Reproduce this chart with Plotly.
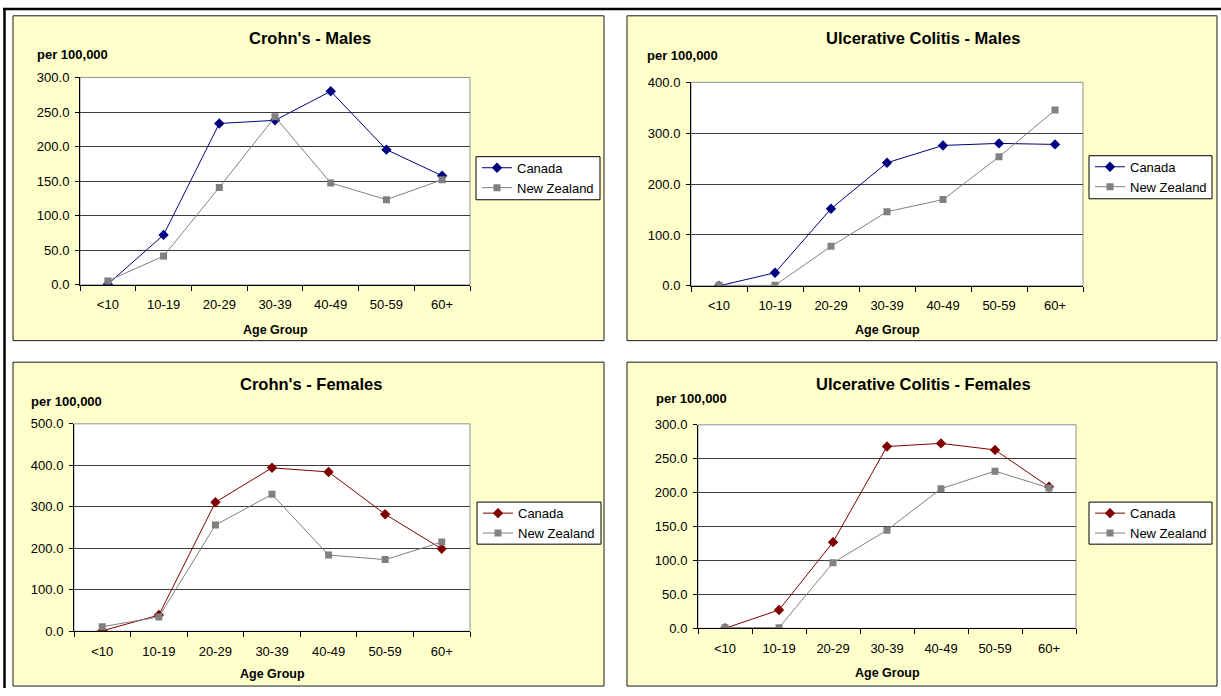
import plotly.graph_objects as go

W, H = 1221, 696

age_groups = ["<10", "10-19", "20-29", "30-39", "40-49", "50-59", "60+"]

cd_m_canada = [1.0, 72.3, 233.4, 238.0, 280.0, 195.6, 157.8]
cd_m_nz = [5.7, 41.6, 141.0, 243.0, 147.4, 123.3, 152.0]
uc_m_canada = [0.0, 25.7, 151.5, 242.0, 276.0, 280.0, 278.0]
uc_m_nz = [1.0, 1.0, 77.7, 145.7, 169.5, 253.6, 345.4]
cd_f_canada = [1.0, 39.0, 311.0, 394.0, 384.0, 282.0, 198.6]
cd_f_nz = [11.0, 34.5, 256.0, 330.0, 183.7, 172.7, 215.0]
uc_f_canada = [0.0, 27.0, 127.0, 268.0, 272.6, 263.0, 208.6]
uc_f_nz = [1.0, 1.0, 96.6, 144.7, 205.8, 231.7, 207.0]

titles = ["Crohn's - Males", "Ulcerative Colitis - Males",
          "Crohn's - Females", "Ulcerative Colitis - Females"]
series = [(cd_m_canada, cd_m_nz), (uc_m_canada, uc_m_nz),
          (cd_f_canada, cd_f_nz), (uc_f_canada, uc_f_nz)]
y_max = [300, 400, 500, 300]
y_step = [50, 100, 100, 50]
canada_colors = ["#000080", "#000080", "#800000", "#800000"]
NZ_COLOR = "#808080"

FONT = "Liberation Sans, Arial, sans-serif"

# layout in pixels
panels = [  # yellow panel boxes (x0, y0, x1, y1)
    (13, 9, 604, 341), (627, 9, 1217, 341),
    (13, 363, 604, 694), (627, 363, 1217, 694)]
plots = [  # plot areas (x0, y0, x1, y1)
    (80, 72, 470, 284), (691, 77, 1083, 285),
    (74, 426, 470, 638), (698, 427, 1076, 635)]
title_pos = [(310, 32), (923, 32), (311, 385), (923, 385)]
unit_pos = [(35, 49), (645, 50), (29, 403), (654, 400)]
xlab_y = [330, 330, 682, 681]
legend_box = [(476, 153, 600, 197), (1089, 152, 1212, 196),
              (477, 506, 601, 549), (1089, 506, 1212, 549)]


def px(x):
    return x / W


def py(y):
    return 1 - y / H


fig = go.Figure()
shapes = []
annotations = []

# outer frame lines
shapes.append(dict(type="line", xref="paper", yref="paper",
                   x0=px(3), x1=px(W), y0=py(2), y1=py(2),
                   line=dict(color="black", width=2.5), layer="below"))
shapes.append(dict(type="line", xref="paper", yref="paper",
                   x0=px(4.5), x1=px(4.5), y0=py(1), y1=py(H),
                   line=dict(color="black", width=2.5), layer="below"))

for i in range(4):
    n = "" if i == 0 else str(i + 1)
    xa, ya = "x" + n, "y" + n
    leg = "legend" + n
    can, nz = series[i]
    fig.add_trace(go.Scatter(
        x=age_groups, y=can, name="Canada", mode="lines+markers",
        line=dict(color=canada_colors[i], width=1),
        marker=dict(symbol="diamond", size=8, color=canada_colors[i]),
        xaxis=xa, yaxis=ya, legend=leg))
    fig.add_trace(go.Scatter(
        x=age_groups, y=nz, name="New Zealand", mode="lines+markers",
        line=dict(color=NZ_COLOR, width=1),
        marker=dict(symbol="square", size=7, color=NZ_COLOR),
        xaxis=xa, yaxis=ya, legend=leg))

    x0, y0, x1, y1 = plots[i]
    fig.layout["xaxis" + n] = dict(
        domain=[px(x0), px(x1)], anchor=ya, type="category",
        categoryorder="array", categoryarray=age_groups,
        range=[-0.5, 6.5], tickson="boundaries", ticks="outside",
        ticklen=5, tickcolor="black", showline=True, linecolor="black",
        linewidth=1, showgrid=False, zeroline=False,
        tickfont=dict(family=FONT, size=13, color="black"),
        ticklabelstandoff=8, fixedrange=True)
    fig.layout["yaxis" + n] = dict(
        domain=[py(y1), py(y0)], anchor=xa, range=[0, y_max[i]],
        dtick=y_step[i], tick0=0, tickformat=".1f", ticks="outside",
        ticklen=4, tickcolor="black", showline=True, linecolor="black",
        linewidth=1, showgrid=True, gridcolor="#3c3c3c", gridwidth=1,
        zeroline=False, tickfont=dict(family=FONT, size=13, color="black"),
        ticklabelstandoff=3, fixedrange=True)

    lx0, ly0, lx1, ly1 = legend_box[i]
    fig.layout[leg] = dict(
        x=px(lx0 + 1), y=py(ly0 - 4), xanchor="left", yanchor="top",
        bgcolor="rgba(0,0,0,0)", borderwidth=0,
        font=dict(family=FONT, size=13, color="black"),
        itemwidth=30, tracegroupgap=0)

    # yellow panel
    bx0, by0, bx1, by1 = panels[i]
    shapes.append(dict(type="rect", xref="paper", yref="paper",
                       x0=px(bx0), x1=px(bx1), y0=py(by1), y1=py(by0),
                       fillcolor="#FFFFCC", line=dict(color="#1a1a1a", width=1),
                       layer="below"))
    # legend frame
    shapes.append(dict(type="rect", xref="paper", yref="paper",
                       x0=px(lx0), x1=px(lx1), y0=py(ly1), y1=py(ly0),
                       fillcolor="white", line=dict(color="black", width=1),
                       layer="below"))
    # white plot area with gray top/right border
    shapes.append(dict(type="rect", xref=xa + " domain", yref=ya + " domain",
                       x0=0, x1=1, y0=0, y1=1, fillcolor="white",
                       line=dict(color="#909090", width=1), layer="below"))

    tx, ty = title_pos[i]
    annotations.append(dict(text="<b>" + titles[i] + "</b>", xref="paper",
                            yref="paper", x=px(tx), y=py(ty), xanchor="center",
                            yanchor="middle", showarrow=False,
                            font=dict(family=FONT, size=16.5, color="black")))
    ux, uy = unit_pos[i]
    annotations.append(dict(text="<b>per 100,000</b>", xref="paper",
                            yref="paper", x=px(ux), y=py(uy), xanchor="left",
                            yanchor="middle", showarrow=False,
                            font=dict(family=FONT, size=13, color="black")))
    annotations.append(dict(text="<b>Age Group</b>", xref="paper",
                            yref="paper", x=px((x0 + x1) / 2), y=py(xlab_y[i]),
                            xanchor="center", yanchor="middle", showarrow=False,
                            font=dict(family=FONT, size=12.5, color="black")))

fig.update_layout(
    width=W, height=H, margin=dict(l=0, r=0, t=0, b=0),
    paper_bgcolor="white", plot_bgcolor="white",
    shapes=shapes, annotations=annotations,
    font=dict(family=FONT, size=12, color="black"),
)

fig.write_html("out.html", config={"displayModeBar": False},
               post_script="document.body.style.margin='0px';"
                           "document.body.style.overflow='hidden';")
